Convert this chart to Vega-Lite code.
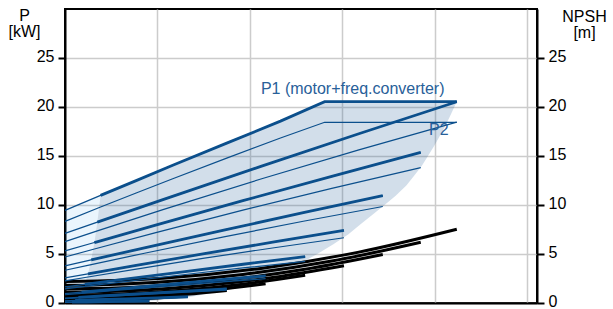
{
  "$schema": "https://vega.github.io/schema/vega-lite/v6.json",
  "width": 472,
  "height": 294,
  "autosize": {"type": "none"},
  "padding": {"left": 65, "top": 9, "right": 76, "bottom": 6},
  "config": {
    "font": "Liberation Sans",
    "view": {"stroke": "black", "strokeWidth": 2},
    "axis": {"labelFont": "Liberation Sans", "titleFont": "Liberation Sans"}
  },
  "datasets": {
    "dark": [
      {"p": 0, "q1": 0, "q2": 7.5}, {"p": 0.1, "q1": 0.79, "q2": 8.4}, {"p": 0.2, "q1": 0.98, "q2": 9.33},
      {"p": 0.4, "q1": 1.25, "q2": 11.48}, {"p": 0.6, "q1": 1.46, "q2": 13.48}, {"p": 1.0, "q1": 1.72, "q2": 15.78},
      {"p": 1.5, "q1": 1.97, "q2": 18.22}, {"p": 2, "q1": 2.18, "q2": 20.0}, {"p": 3, "q1": 2.5, "q2": 22.97},
      {"p": 4, "q1": 2.74, "q2": 25.39}, {"p": 5, "q1": 2.96, "q2": 27.3}, {"p": 6, "q1": 3.15, "q2": 29.04},
      {"p": 7, "q1": 3.31, "q2": 30.64}, {"p": 8, "q1": 3.46, "q2": 31.95}, {"p": 9, "q1": 3.6, "q2": 33.27},
      {"p": 10, "q1": 3.72, "q2": 34.58}, {"p": 10.98, "q1": 3.85, "q2": 35.82}, {"p": 11, "q1": 3.9, "q2": 35.84},
      {"p": 12, "q1": 6.45, "q2": 36.94}, {"p": 13, "q1": 8.99, "q2": 37.8}, {"p": 14, "q1": 11.53, "q2": 38.62},
      {"p": 15, "q1": 14.11, "q2": 39.28}, {"p": 16, "q1": 16.7, "q2": 39.93}, {"p": 17, "q1": 19.28, "q2": 40.53},
      {"p": 18, "q1": 21.87, "q2": 41.12}, {"p": 19, "q1": 24.38, "q2": 41.64}, {"p": 20, "q1": 26.8, "q2": 42.13},
      {"p": 20.54, "q1": 28.1, "q2": 42.4}
    ],
    "light": [
      {"p": 0, "l1": 0, "l2": 0}, {"p": 0.1, "l1": 0, "l2": 0.79}, {"p": 0.2, "l1": 0, "l2": 0.98},
      {"p": 0.4, "l1": 0, "l2": 1.25}, {"p": 0.6, "l1": 0, "l2": 1.46}, {"p": 1.0, "l1": 0, "l2": 1.72},
      {"p": 1.5, "l1": 0, "l2": 1.97}, {"p": 2, "l1": 0, "l2": 2.18}, {"p": 3, "l1": 0, "l2": 2.5},
      {"p": 4, "l1": 0, "l2": 2.74}, {"p": 5, "l1": 0, "l2": 2.96}, {"p": 6, "l1": 0, "l2": 3.15},
      {"p": 7, "l1": 0, "l2": 3.31}, {"p": 8, "l1": 0, "l2": 3.46}, {"p": 9, "l1": 0, "l2": 3.6},
      {"p": 9.45, "l1": 0, "l2": 3.65}, {"p": 10, "l1": 1.38, "l2": 3.72}, {"p": 10.98, "l1": 3.85, "l2": 3.85}
    ],
    "curves": [
      {"c": "E", "q": 0, "p1": 9.45, "p2": 8.33, "z": "min"},
      {"c": "E", "q": 3.85, "p1": 10.98, "p2": 9.79, "z": "op"},
      {"c": "E", "q": 7.7, "p1": 12.49, "p2": 11.23, "z": "op"},
      {"c": "E", "q": 11.66, "p1": 14.05, "p2": 12.68, "z": "op"},
      {"c": "E", "q": 17.5, "p1": 16.31, "p2": 14.78, "z": "op"},
      {"c": "E", "q": 23.32, "p1": 18.56, "p2": 16.84, "z": "op"},
      {"c": "E", "q": 28.1, "p1": 20.54, "p2": 18.44, "z": "op"},
      {"c": "E", "q": 42.4, "p1": 20.54, "p2": 18.44, "z": "op"},

      {"c": "S100", "q": 0, "p1": 7.1, "p2": 6.26, "n": 2.2, "z": "min"},
      {"c": "S100", "q": 3.5, "p1": 8.25, "p2": 7.36, "n": 2.24, "z": "op"},
      {"c": "S100", "q": 10.6, "p1": 10.55, "p2": 9.53, "n": 2.53, "z": "op"},
      {"c": "S100", "q": 21.2, "p1": 13.94, "p2": 12.65, "n": 3.53, "z": "op"},
      {"c": "S100", "q": 31.8, "p1": 17.27, "p2": 15.63, "n": 5.19, "z": "op"},
      {"c": "S100", "q": 42.4, "p1": 20.54, "p2": 18.46, "n": 7.52, "z": "op"},

      {"c": "S91", "q": 0, "p1": 5.32, "p2": 4.69, "n": 1.81, "z": "min"},
      {"c": "S91", "q": 3.18, "p1": 6.17, "p2": 5.51, "n": 1.84, "z": "op"},
      {"c": "S91", "q": 9.62, "p1": 7.9, "p2": 7.13, "n": 2.09, "z": "op"},
      {"c": "S91", "q": 19.25, "p1": 10.44, "p2": 9.47, "n": 2.91, "z": "op"},
      {"c": "S91", "q": 28.87, "p1": 12.93, "p2": 11.7, "n": 4.28, "z": "op"},
      {"c": "S91", "q": 38.5, "p1": 15.38, "p2": 13.82, "n": 6.2, "z": "op"},

      {"c": "S81", "q": 0, "p1": 3.79, "p2": 3.34, "n": 1.45, "z": "min"},
      {"c": "S81", "q": 2.84, "p1": 4.4, "p2": 3.92, "n": 1.47, "z": "op"},
      {"c": "S81", "q": 8.6, "p1": 5.63, "p2": 5.08, "n": 1.67, "z": "op"},
      {"c": "S81", "q": 17.19, "p1": 7.44, "p2": 6.75, "n": 2.32, "z": "op"},
      {"c": "S81", "q": 25.79, "p1": 9.21, "p2": 8.34, "n": 3.42, "z": "op"},
      {"c": "S81", "q": 34.39, "p1": 10.96, "p2": 9.85, "n": 4.95, "z": "op"},

      {"c": "S71", "q": 0, "p1": 2.56, "p2": 2.26, "n": 1.12, "z": "min"},
      {"c": "S71", "q": 2.49, "p1": 2.98, "p2": 2.65, "n": 1.13, "z": "op"},
      {"c": "S71", "q": 7.55, "p1": 3.81, "p2": 3.44, "n": 1.28, "z": "op"},
      {"c": "S71", "q": 15.09, "p1": 5.03, "p2": 4.57, "n": 1.79, "z": "op"},
      {"c": "S71", "q": 22.64, "p1": 6.23, "p2": 5.64, "n": 2.63, "z": "op"},
      {"c": "S71", "q": 30.19, "p1": 7.41, "p2": 6.66, "n": 3.81, "z": "op"},

      {"c": "S61", "q": 0, "p1": 1.64, "p2": 1.44, "n": 0.83, "z": "min"},
      {"c": "S61", "q": 2.15, "p1": 1.9, "p2": 1.69, "n": 0.84, "z": "op"},
      {"c": "S61", "q": 6.5, "p1": 2.43, "p2": 2.19, "n": 0.95, "z": "op"},
      {"c": "S61", "q": 13.0, "p1": 3.21, "p2": 2.91, "n": 1.33, "z": "op"},
      {"c": "S61", "q": 19.49, "p1": 3.98, "p2": 3.6, "n": 1.95, "z": "op"},
      {"c": "S61", "q": 25.99, "p1": 4.73, "p2": 4.25, "n": 2.83, "z": "op"},

      {"c": "S51", "q": 0, "p1": 0.95, "p2": 0.84, "n": 0.58, "z": "min"},
      {"c": "S51", "q": 1.79, "p1": 1.11, "p2": 0.99, "n": 0.59, "z": "op"},
      {"c": "S51", "q": 5.43, "p1": 1.42, "p2": 1.28, "n": 0.66, "z": "op"},
      {"c": "S51", "q": 10.85, "p1": 1.87, "p2": 1.7, "n": 0.93, "z": "op"},
      {"c": "S51", "q": 16.28, "p1": 2.32, "p2": 2.1, "n": 1.36, "z": "op"},
      {"c": "S51", "q": 21.71, "p1": 2.76, "p2": 2.48, "n": 1.97, "z": "op"},

      {"c": "S41", "q": 0, "p1": 0.5, "p2": 0.44, "n": 0.38, "z": "min"},
      {"c": "S41", "q": 1.45, "p1": 0.58, "p2": 0.52, "n": 0.38, "z": "op"},
      {"c": "S41", "q": 4.38, "p1": 0.74, "p2": 0.67, "n": 0.43, "z": "op"},
      {"c": "S41", "q": 8.76, "p1": 0.98, "p2": 0.89, "n": 0.6, "z": "op"},
      {"c": "S41", "q": 13.13, "p1": 1.22, "p2": 1.1, "n": 0.89, "z": "op"},
      {"c": "S41", "q": 17.51, "p1": 1.45, "p2": 1.3, "n": 1.28, "z": "op"},

      {"c": "S31", "q": 0, "p1": 0.22, "p2": 0.19, "n": 0.22, "z": "min"},
      {"c": "S31", "q": 1.1, "p1": 0.26, "p2": 0.23, "n": 0.22, "z": "op"},
      {"c": "S31", "q": 3.33, "p1": 0.33, "p2": 0.3, "n": 0.25, "z": "op"},
      {"c": "S31", "q": 6.66, "p1": 0.43, "p2": 0.39, "n": 0.35, "z": "op"},
      {"c": "S31", "q": 9.99, "p1": 0.53, "p2": 0.48, "n": 0.51, "z": "op"},
      {"c": "S31", "q": 13.31, "p1": 0.64, "p2": 0.57, "n": 0.74, "z": "op"},

      {"c": "S21", "q": 0, "p1": 0.07, "p2": 0.06, "n": 0.1, "z": "min"},
      {"c": "S21", "q": 0.75, "p1": 0.08, "p2": 0.07, "n": 0.1, "z": "op"},
      {"c": "S21", "q": 2.28, "p1": 0.1, "p2": 0.09, "n": 0.12, "z": "op"},
      {"c": "S21", "q": 4.56, "p1": 0.14, "p2": 0.13, "n": 0.16, "z": "op"},
      {"c": "S21", "q": 6.84, "p1": 0.17, "p2": 0.16, "n": 0.24, "z": "op"},
      {"c": "S21", "q": 9.12, "p1": 0.2, "p2": 0.18, "n": 0.35, "z": "op"}
    ],
    "labels": [
      {"label": "P1 (motor+freq.converter)", "q": 21.2, "p": 21.33},
      {"label": "P2", "q": 39.4, "p": 17.14}
    ]
  },
  "resolve": {"scale": {"x": "shared", "y": "shared"}, "axis": {"x": "independent", "y": "independent"}},
  "layer": [
    {
      "data": {"name": "dark"},
      "mark": {"type": "area", "orient": "horizontal", "color": "#1f5a96", "opacity": 0.2},
      "encoding": {
        "y": {"field": "p", "type": "quantitative", "scale": {"domain": [0, 30], "nice": false, "zero": false},
          "axis": {"orient": "left", "values": [0, 5, 10, 15, 20, 25], "grid": true, "gridColor": "#cccccc", "gridWidth": 1.5,
            "domainColor": "black", "domainWidth": 2, "tickColor": "black", "tickWidth": 2, "tickSize": 7,
            "labelFontSize": 16, "labelColor": "black", "labelPadding": 4, "labelOffset": -2,
            "title": ["P", "[kW]"], "titleAngle": 0, "titleAlign": "center", "titleBaseline": "alphabetic",
            "titleX": -41, "titleY": 11, "titleFontSize": 16, "titleFontWeight": "normal", "titleColor": "black", "titleLineHeight": 16}},
        "x": {"field": "q1", "type": "quantitative", "scale": {"domain": [0, 51.08], "nice": false, "zero": false},
          "axis": {"values": [10, 20, 30, 40, 50], "labels": false, "ticks": false, "title": null, "grid": true,
            "gridColor": "#cccccc", "gridWidth": 1.5, "domainColor": "black", "domainWidth": 2}},
        "x2": {"field": "q2"}
      }
    },
    {
      "data": {"name": "light"},
      "mark": {"type": "area", "orient": "horizontal", "color": "#3399ee", "opacity": 0.1},
      "encoding": {
        "y": {"field": "p", "type": "quantitative", "axis": null},
        "x": {"field": "l1", "type": "quantitative", "axis": null},
        "x2": {"field": "l2"}
      }
    },
    {
      "data": {"name": "curves"},
      "transform": [{"filter": "isValid(datum.n)"}],
      "mark": {"type": "line", "color": "black", "strokeWidth": 3, "interpolate": "monotone"},
      "encoding": {
        "x": {"field": "q", "type": "quantitative", "axis": null},
        "y": {"field": "n", "type": "quantitative",
          "axis": {"orient": "right", "values": [0, 5, 10, 15, 20, 25], "grid": false,
            "domainColor": "black", "domainWidth": 2, "tickColor": "black", "tickWidth": 2, "tickSize": 7,
            "labelFontSize": 16, "labelColor": "black", "labelPadding": 4, "labelOffset": -2,
            "title": ["NPSH", "[m]"], "titleAngle": 0, "titleAlign": "center", "titleBaseline": "alphabetic",
            "titleX": 47, "titleY": 12, "titleFontSize": 16, "titleFontWeight": "normal", "titleColor": "black", "titleLineHeight": 16}},
        "detail": {"field": "c"}
      }
    },
    {
      "data": {"name": "curves"},
      "mark": {"type": "line", "color": "#0b4f8c", "strokeWidth": 1.2},
      "encoding": {
        "x": {"field": "q", "type": "quantitative", "axis": null},
        "y": {"field": "p2", "type": "quantitative", "axis": null},
        "detail": {"field": "c"}
      }
    },
    {
      "data": {"name": "curves"},
      "mark": {"type": "line", "color": "#0b4f8c", "strokeWidth": 1.2},
      "encoding": {
        "x": {"field": "q", "type": "quantitative", "axis": null},
        "y": {"field": "p1", "type": "quantitative", "axis": null},
        "detail": {"field": "c"}
      }
    },
    {
      "data": {"name": "curves"},
      "transform": [{"filter": "datum.z === 'op'"}],
      "mark": {"type": "line", "color": "#0b4f8c", "strokeWidth": 2.8},
      "encoding": {
        "x": {"field": "q", "type": "quantitative", "axis": null},
        "y": {"field": "p1", "type": "quantitative", "axis": null},
        "detail": {"field": "c"}
      }
    },
    {
      "data": {"name": "labels"},
      "mark": {"type": "text", "align": "left", "baseline": "alphabetic", "fontSize": 16, "color": "#286099"},
      "encoding": {
        "x": {"field": "q", "type": "quantitative", "axis": null},
        "y": {"field": "p", "type": "quantitative", "axis": null},
        "text": {"field": "label"}
      }
    }
  ]
}
